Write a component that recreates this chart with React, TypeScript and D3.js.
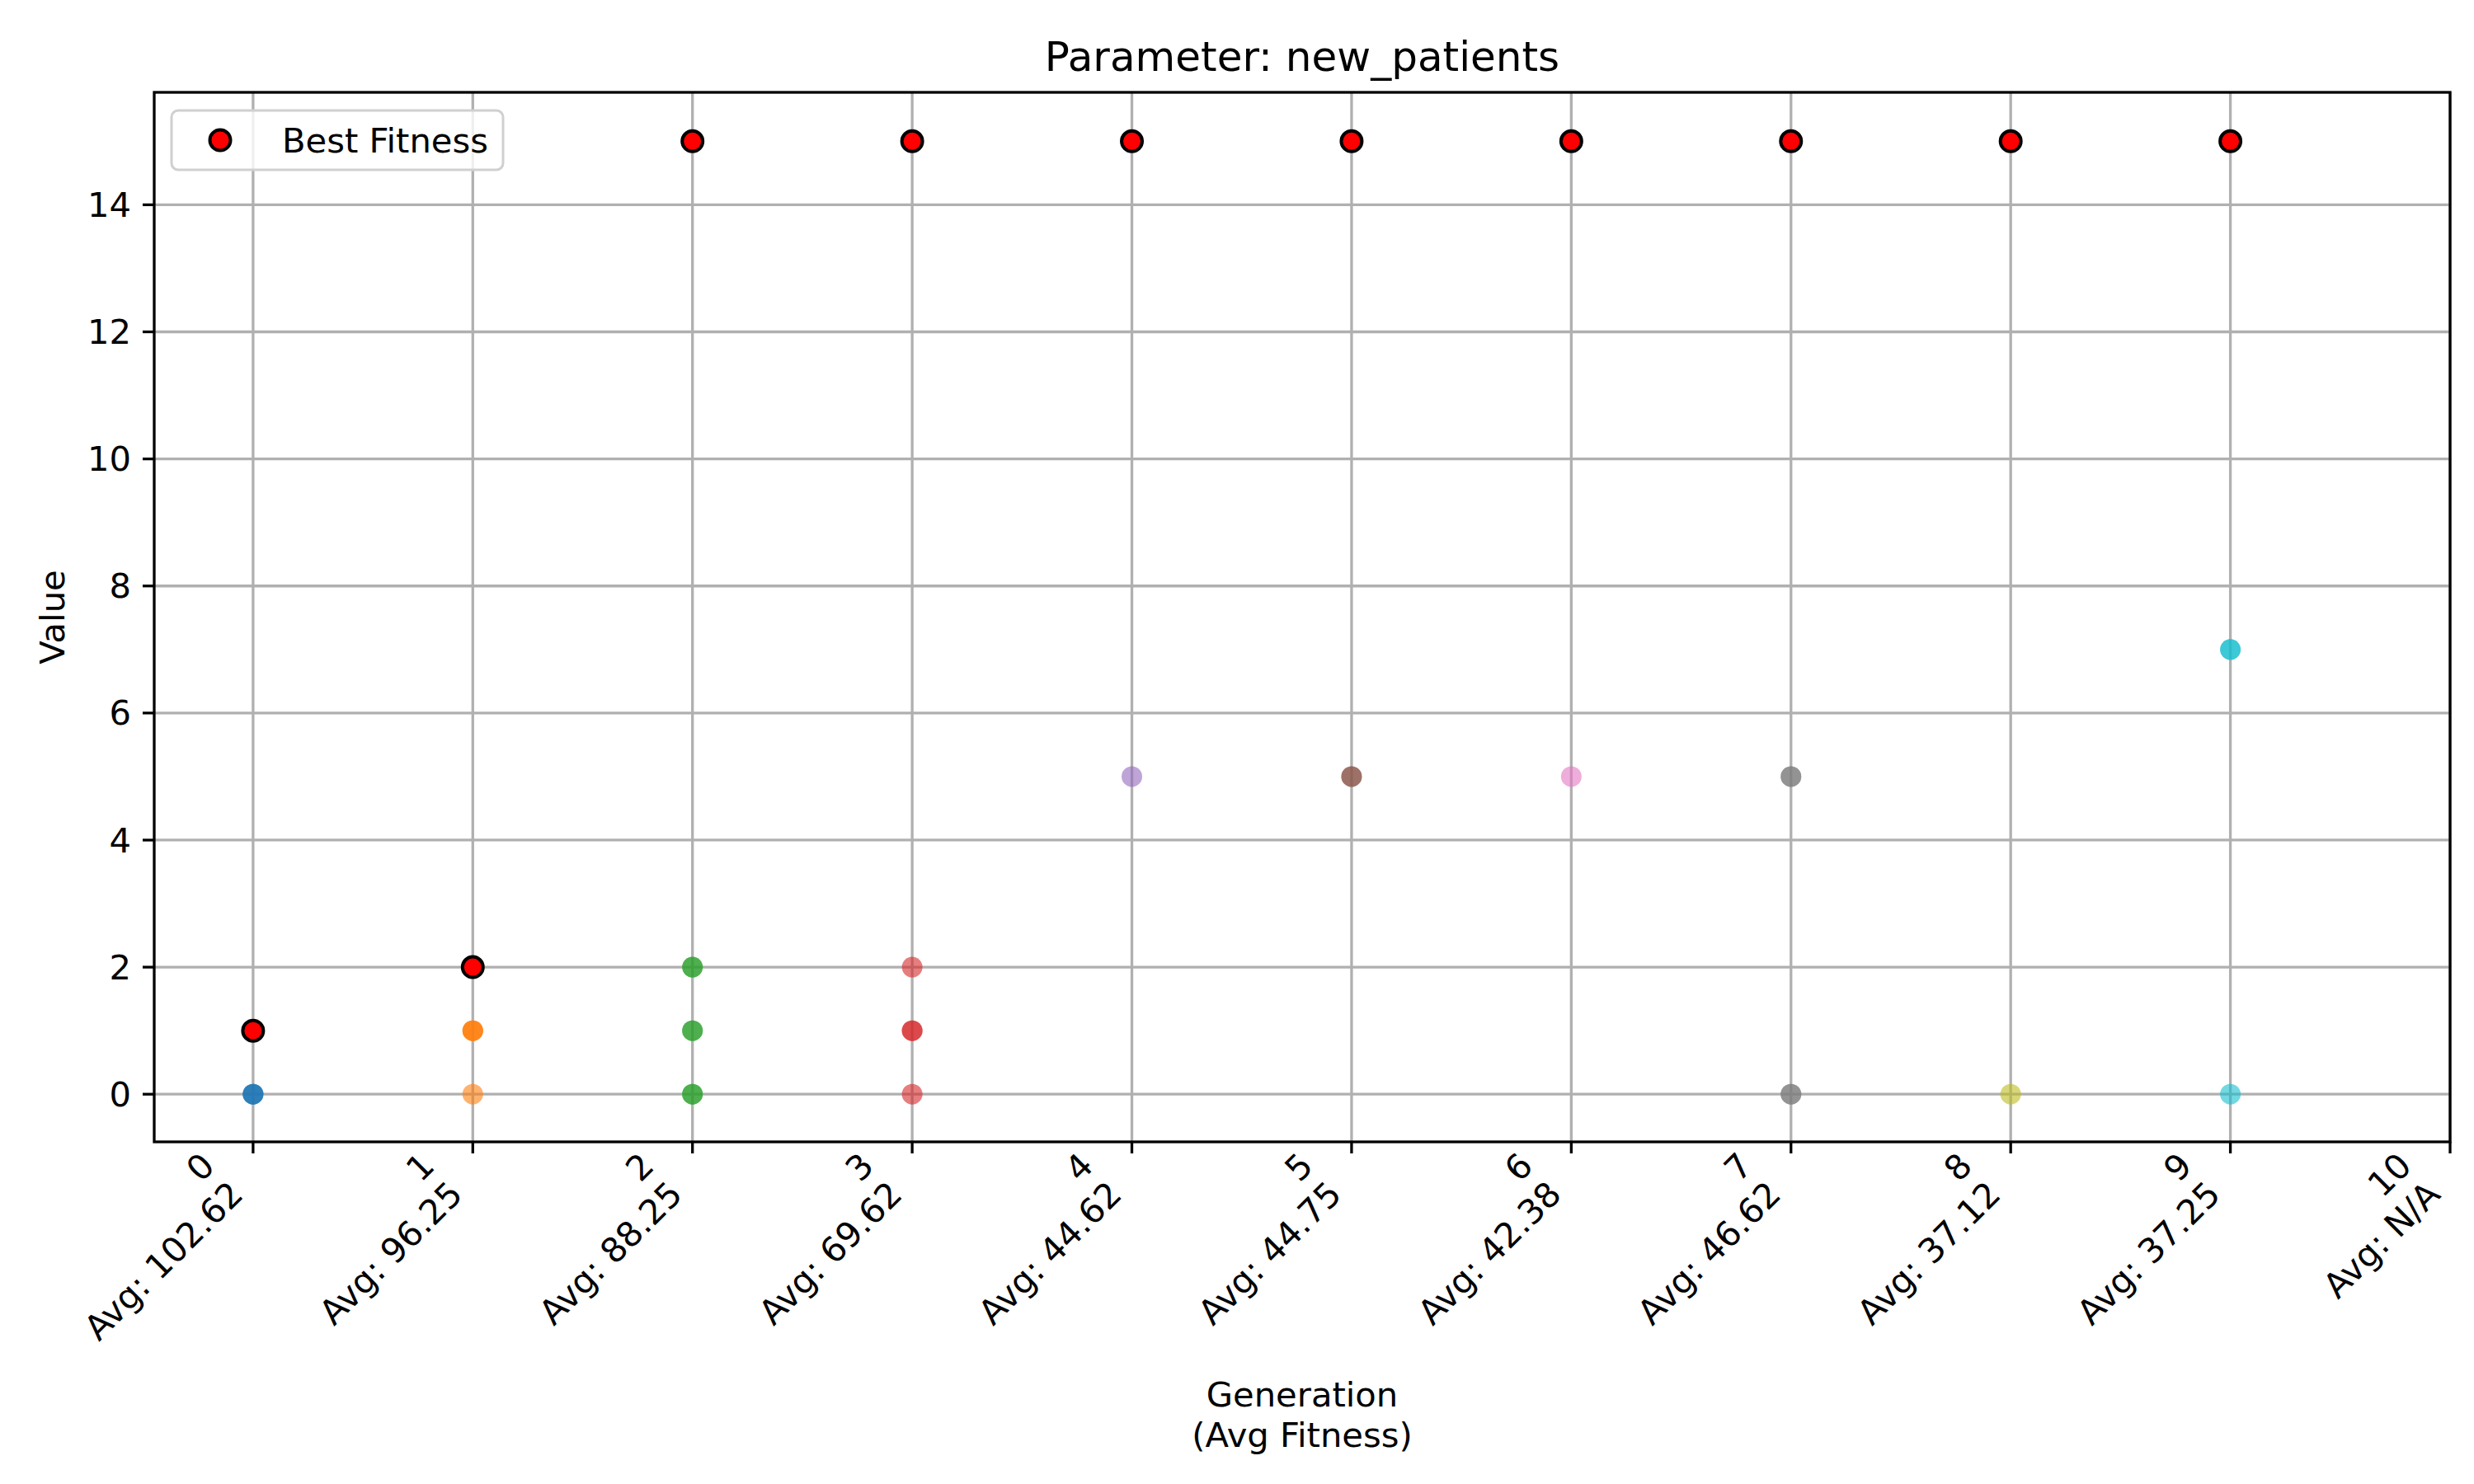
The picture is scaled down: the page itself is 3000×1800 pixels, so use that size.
import React from 'react';
import * as d3 from 'd3';

const generations = [0, 1, 2, 3, 4, 5, 6, 7, 8, 9, 10];
const avgFitness = ['102.62', '96.25', '88.25', '69.62', '44.62', '44.75', '42.38', '46.62', '37.12', '37.25', 'N/A'];
// population values per generation (repeats stack their alpha)
const population: number[][] = [
  [0, 0, 0],
  [1, 1, 1, 0],
  [2, 2, 1, 1, 0, 0],
  [2, 1, 1, 0],
  [5],
  [5, 5],
  [5],
  [5, 5, 0, 0],
  [0],
  [7, 7, 0],
];
const bestFitness = [1, 2, 15, 15, 15, 15, 15, 15, 15, 15];
const yTicks = [0, 2, 4, 6, 8, 10, 12, 14];
const palette = d3.schemeCategory10;

const W = 3000, H = 1800;
const left = 187, right = 2971, top = 112, bottom = 1385;

export default function App() {
  const x = d3.scaleLinear().domain([-0.45, 10]).range([left, right]);
  const y = d3.scaleLinear().domain([-0.75, 15.77]).range([bottom, top]);
  const font = 'DejaVu Sans, sans-serif';
  const fs = 41.7;
  const r = 12.5;

  return (
    <svg width={W} height={H} style={{ display: 'block', position: 'absolute', left: 0, top: 0 }} fontFamily={font}>
      <rect width={W} height={H} fill="#fff" />
      <text x={(left + right) / 2} y={86} fontSize={50} textAnchor="middle">Parameter: new_patients</text>
      {generations.map(g => (
        <line key={'gx' + g} x1={x(g)} x2={x(g)} y1={top} y2={bottom} stroke="#b0b0b0" strokeWidth={3.3} />
      ))}
      {yTicks.map(t => (
        <line key={'gy' + t} x1={left} x2={right} y1={y(t)} y2={y(t)} stroke="#b0b0b0" strokeWidth={3.3} />
      ))}
      {population.map((vals, g) => vals.map((v, i) => (
        <circle key={`p${g}-${i}`} cx={x(g)} cy={y(v)} r={r} fill={palette[g % 10]} fillOpacity={0.6} />
      )))}
      {bestFitness.map((v, g) => (
        <circle key={'b' + g} cx={x(g)} cy={y(v)} r={r} fill="red" stroke="#000" strokeWidth={4} />
      ))}
      <rect x={left} y={top} width={right - left} height={bottom - top} fill="none" stroke="#000" strokeWidth={3.3} />
      {yTicks.map(t => (
        <g key={'yt' + t}>
          <line x1={left - 14} x2={left} y1={y(t)} y2={y(t)} stroke="#000" strokeWidth={3.3} />
          <text x={left - 28} y={y(t)} dy="0.35em" fontSize={fs} textAnchor="end">{t}</text>
        </g>
      ))}
      {generations.map((g, i) => (
        <g key={'xt' + g}>
          <line x1={x(g)} x2={x(g)} y1={bottom} y2={bottom + 14} stroke="#000" strokeWidth={3.3} />
          <g transform={`translate(${x(g) - 68},${bottom + 8}) rotate(-45)`}>
            <text fontSize={fs} textAnchor="end">
              <tspan x={0} dy="0.8em">{g}</tspan>
              <tspan x={0} dy="1.17em">{`Avg: ${avgFitness[i]}`}</tspan>
            </text>
          </g>
        </g>
      ))}
      <text x={(left + right) / 2} y={1706} fontSize={fs} textAnchor="middle">Generation</text>
      <text x={(left + right) / 2} y={1755} fontSize={fs} textAnchor="middle">(Avg Fitness)</text>
      <text transform={`translate(78,${(top + bottom) / 2}) rotate(-90)`} fontSize={fs} textAnchor="middle">Value</text>
      <rect x={208} y={134} width={402} height={72} fill="#fff" fillOpacity={0.8} stroke="#d0d0d0" strokeWidth={3} rx={8} />
      <circle cx={267} cy={170} r={r} fill="red" stroke="#000" strokeWidth={4} />
      <text x={342} y={170} dy="0.35em" fontSize={fs}>Best Fitness</text>
    </svg>
  );
}
